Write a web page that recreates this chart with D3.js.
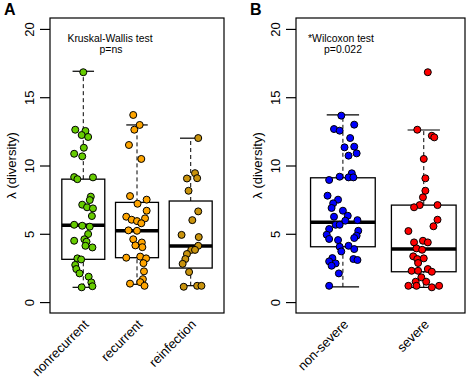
<!DOCTYPE html>
<html lang="en">
  <head>
    <meta charset="UTF-8" />
    <title>diversity boxplots</title>
    <style>
      body { margin: 0; background: #fff; }
      text { font-family: "Liberation Sans", Arial, sans-serif; }
    </style>
  </head>
  <body>
    <svg id="container" width="471" height="379"></svg>
  </body>
  <script src="https://cdn.jsdelivr.net/npm/d3@7"></script>
  <script>
    // ---- data ----
    let groupsA = ["nonrecurrent", "recurrent", "reinfection"];
    let groupsB = ["non-severe", "severe"];
    let yTicks = [0, 5, 10, 15, 20];

    let nonrecurrent = [16.83, 12.62, 12.53, 12.23, 12.09, 11.3, 10.86, 10.67, 9.15, 9.0, 9.13, 7.72, 7.47, 7.13, 6.94, 6.86, 6.3, 5.66, 5.59, 5.52, 4.98, 4.6, 4.49, 4.42, 4.12, 4.0, 3.2, 3.12, 2.72, 2.42, 2.1, 1.86, 1.44, 1.16, 1.08];
    let nonrecurrentJit = [0.0, -0.15, 0.04, -0.03, 0.09, 0.01, -0.17, -0.02, -0.17, -0.11, 0.18, 0.14, 0.12, -0.02, 0.07, 0.18, 0.16, -0.17, -0.02, 0.12, 0.09, 0.02, -0.17, 0.06, 0.04, 0.17, -0.11, -0.04, -0.15, -0.13, -0.07, 0.1, 0.15, 0.17, -0.03];

    let recurrent = [13.7, 12.97, 12.62, 11.5, 10.48, 7.76, 7.5, 7.2, 6.69, 6.25, 6.13, 6.03, 5.93, 5.77, 5.25, 5.22, 4.6, 4.36, 4.15, 4.02, 3.25, 3.33, 3.2, 2.85, 2.25, 1.68, 1.35, 1.46, 1.19];
    let recurrentJit = [-0.07, 0.05, -0.05, -0.15, 0.08, -0.13, 0.18, 0.01, 0.18, -0.2, 0.15, -0.1, 0.0, 0.08, -0.16, 0.0, -0.07, 0.09, -0.03, 0.1, -0.2, 0.06, 0.17, 0.12, 0.13, 0.11, -0.13, 0.06, 0.14];

    let reinfection = [12.01, 9.44, 9.05, 9.07, 8.15, 6.64, 6.0, 4.92, 4.76, 4.12, 3.82, 3.82, 3.52, 3.15, 2.8, 2.2, 1.12, 1.19, 1.19];
    let reinfectionJit = [0.14, 0.08, -0.07, 0.12, -0.04, 0.14, 0.03, -0.17, 0.15, 0.14, 0.01, 0.08, -0.07, -0.1, -0.15, -0.03, -0.13, 0.12, 0.2];

    let nonsevere = [13.65, 12.99, 12.67, 12.55, 12.01, 11.38, 11.33, 10.89, 10.72, 9.43, 9.18, 9.13, 9.13, 8.94, 7.79, 7.5, 7.23, 6.89, 6.69, 6.32, 6.25, 5.96, 6.0, 5.66, 5.66, 5.35, 5.22, 4.93, 4.86, 4.69, 4.62, 4.54, 4.12, 4.05, 3.88, 3.71, 3.22, 3.15, 3.08, 2.98, 2.83, 2.66, 2.1, 1.19];
    let nonsevereJit = [-0.02, 0.14, -0.11, -0.04, 0.09, 0.14, 0.02, 0.17, 0.07, 0.11, -0.04, 0.07, 0.13, -0.17, -0.19, -0.06, -0.12, -0.14, 0.0, 0.06, -0.11, 0.03, 0.18, -0.09, -0.04, -0.17, 0.19, -0.2, 0.17, 0.14, -0.17, -0.06, 0.07, -0.04, 0.14, -0.02, -0.13, 0.13, 0.18, -0.17, -0.09, -0.14, -0.05, -0.17];

    let severe = [16.83, 12.62, 12.18, 12.06, 10.48, 9.06, 8.15, 7.67, 7.1, 6.94, 7.1, 6.03, 5.55, 5.2, 4.37, 4.49, 4.37, 3.93, 3.83, 3.35, 3.15, 3.2, 2.86, 2.29, 2.29, 2.42, 2.22, 1.81, 1.49, 1.49, 1.19, 1.19, 1.08, 1.19];
    let severeJit = [0.05, -0.08, 0.1, 0.13, 0.0, 0.02, 0.02, -0.01, -0.05, -0.12, 0.17, 0.17, 0.12, -0.19, -0.12, -0.01, 0.05, -0.09, -0.02, -0.13, -0.08, 0.0, -0.07, -0.15, -0.07, 0.05, 0.1, -0.03, -0.1, 0.03, -0.19, -0.09, 0.1, 0.19];

    // box stats: [lower whisker, q1, median, q3, upper whisker]
    let statsA = [[1.08, 3.13, 5.62, 9.0, 16.9], [1.3, 3.25, 5.22, 7.3, 12.97], [1.2, 2.49, 4.1, 7.4, 12.0]];
    let statsB = [[1.12, 4.05, 5.84, 9.1, 13.7], [1.08, 2.22, 3.88, 7.1, 12.6]];

    let panels = [
      { letter: "A", groups: groupsA, values: [nonrecurrent, recurrent, reinfection], jitter: [nonrecurrentJit, recurrentJit, reinfectionJit],
        stats: statsA, colors: ["#66cc00", "#ffa500", "#c9930c"], left: 50, right: 224, xdom: [0.38, 3.62],
        note: ["Kruskal-Wallis test", "p=ns"], noteX: [110, 111] },
      { letter: "B", groups: groupsB, values: [nonsevere, severe], jitter: [nonsevereJit, severeJit],
        stats: statsB, colors: ["#0000ff", "#ff0000"], left: 296, right: 465, xdom: [0.42, 2.51],
        note: ["*Wilcoxon test", "p=0.022"], noteX: [341, 343] }
    ];

    let svg = d3.select("#container");
    let plotTop = 18, plotBottom = 313;
    let y = d3.scaleLinear().domain([-0.8, 20.8]).range([plotBottom, plotTop]);

    panels.forEach(p => {
      let g = svg.append("g");
      let x = d3.scaleLinear().domain(p.xdom).range([p.left, p.right]);
      let bw = x(1.4) - x(1);

      // boxes
      p.stats.forEach((s, i) => {
        let cx = x(i + 1);
        g.append("line").attr("x1", cx).attr("x2", cx).attr("y1", y(s[3])).attr("y2", y(s[4]))
          .attr("stroke", "black").attr("stroke-dasharray", "4,3");
        g.append("line").attr("x1", cx).attr("x2", cx).attr("y1", y(s[0])).attr("y2", y(s[1]))
          .attr("stroke", "black").attr("stroke-dasharray", "4,3");
        [s[0], s[4]].forEach(v => {
          g.append("line").attr("x1", cx - bw / 2).attr("x2", cx + bw / 2).attr("y1", y(v)).attr("y2", y(v))
            .attr("stroke", "black").attr("stroke-width", 1.2);
        });
        g.append("rect").attr("x", cx - bw).attr("width", 2 * bw).attr("y", y(s[3])).attr("height", y(s[1]) - y(s[3]))
          .attr("fill", "none").attr("stroke", "black").attr("stroke-width", 1.3);
        g.append("line").attr("x1", cx - bw).attr("x2", cx + bw).attr("y1", y(s[2])).attr("y2", y(s[2]))
          .attr("stroke", "black").attr("stroke-width", 3.5);
      });

      // jittered points
      p.values.forEach((vals, i) => {
        g.selectAll(null).data(vals).enter().append("circle")
          .attr("cx", (d, j) => x(i + 1 + p.jitter[i][j]))
          .attr("cy", d => y(d))
          .attr("r", 3.5)
          .attr("fill", p.colors[i])
          .attr("stroke", "black")
          .attr("stroke-width", 1);
      });

      // frame
      g.append("rect").attr("x", p.left).attr("y", plotTop).attr("width", p.right - p.left).attr("height", plotBottom - plotTop)
        .attr("fill", "none").attr("stroke", "black").attr("stroke-width", 1.2);

      // y axis
      let ya = g.append("g").attr("transform", `translate(${p.left},0)`)
        .call(d3.axisLeft(y).tickValues(yTicks).tickSize(10).tickPadding(0));
      ya.select(".domain").remove();
      ya.selectAll("line").attr("stroke", "black").attr("stroke-width", 1.2);
      ya.selectAll(".tick text")
        .attr("transform", "rotate(-90)")
        .attr("x", 0).attr("y", -16).attr("dy", "0")
        .attr("text-anchor", "middle")
        .style("font-size", "13px").attr("fill", "black");

      g.append("text").attr("transform", `translate(${p.left - 34},${(plotTop + plotBottom) / 2}) rotate(-90)`)
        .attr("text-anchor", "middle").style("font-size", "13px").text("λ (diversity)");

      // x labels
      p.groups.forEach((name, i) => {
        g.append("text").attr("transform", `translate(${x(i + 1) + 3},${plotBottom + 9}) rotate(-45)`)
          .attr("text-anchor", "end").attr("dy", "0.35em").style("font-size", "13px").text(name);
      });

      // notes
      g.append("text").attr("x", p.noteX[0]).attr("y", 42).attr("text-anchor", "middle")
        .style("font-size", "10.4px").text(p.note[0]);
      g.append("text").attr("x", p.noteX[1]).attr("y", 53).attr("text-anchor", "middle")
        .style("font-size", "10.4px").text(p.note[1]);

      // panel letter
      g.append("text").attr("x", p.left - 46).attr("y", 15).style("font-size", "16px")
        .style("font-weight", "bold").text(p.letter);
    });
  </script>
</html>
